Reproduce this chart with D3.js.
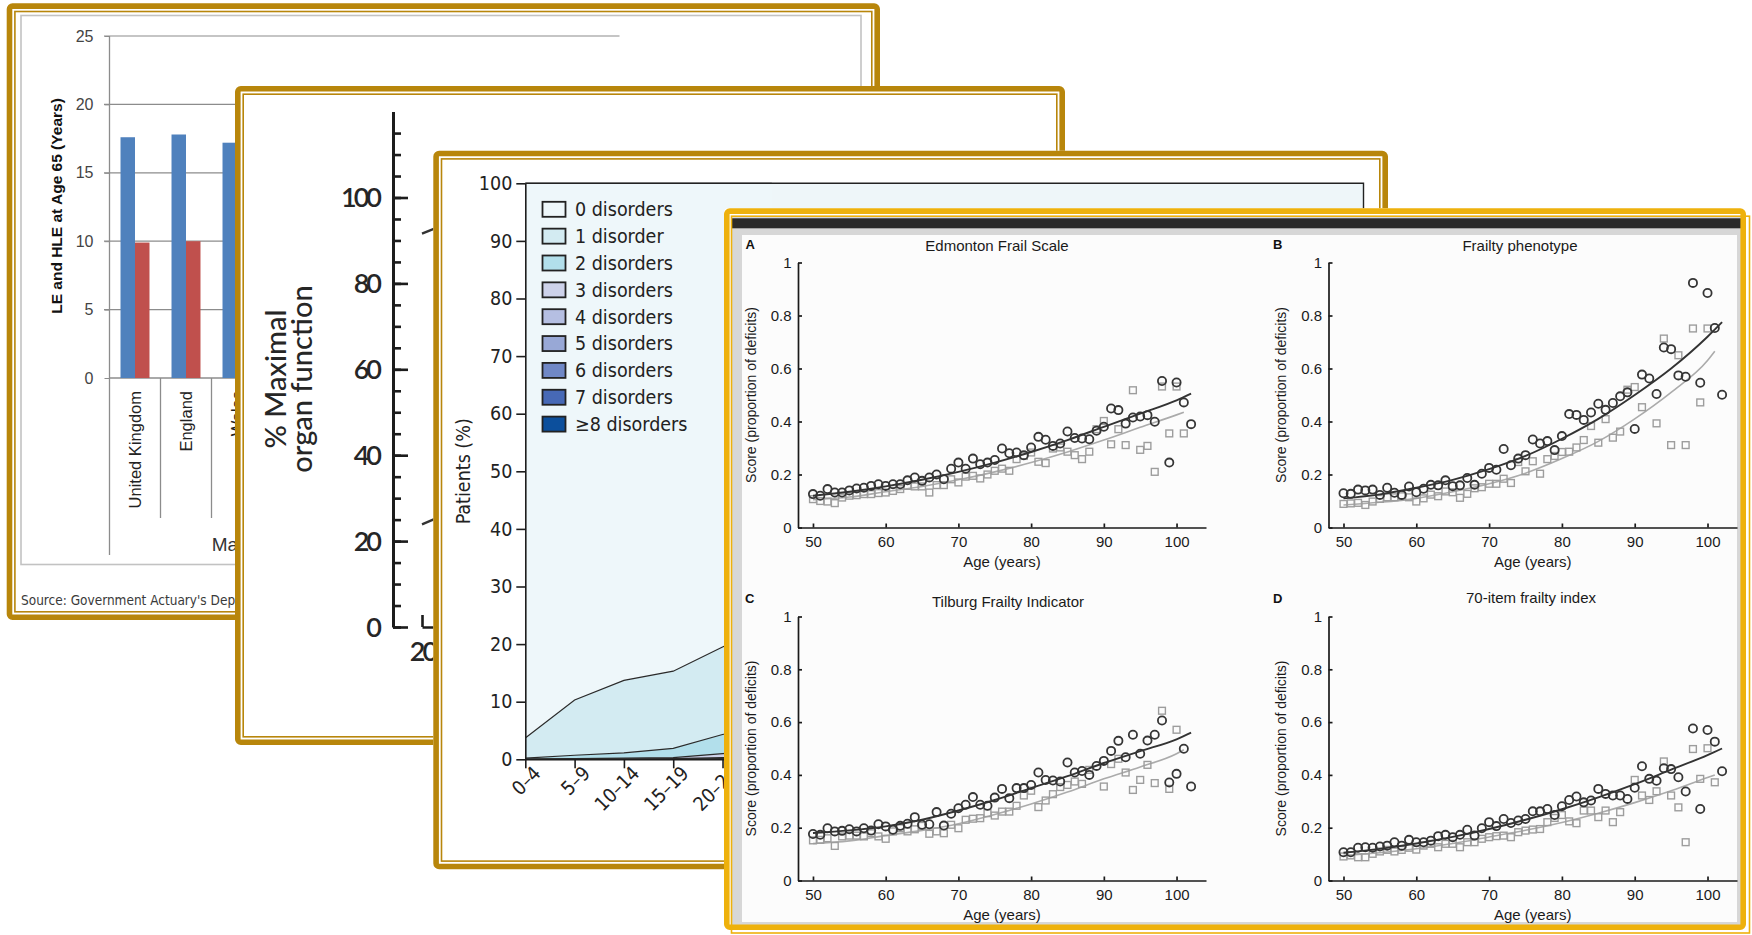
<!DOCTYPE html>
<html>
<head>
<meta charset="utf-8">
<script src="https://cdn.jsdelivr.net/npm/d3@7"></script>
<style>
  body { margin: 0; background: #fff; }
  svg { display: block; }
</style>
</head>
<body>
<div id="root"></div>
<script>
// ---------- slide 1: life expectancy at 65 (only the left part can be read)
const lifeCountries = ['United Kingdom', 'England', 'Wales', 'Scotland', 'Northern Ireland']
const lifeGroups = ['Males', 'Females']
const lifeLE = [17.6, 17.8, 17.2]
const lifeHLE = [9.9, 10.0, 10.6]
const lifeTicks = [0, 5, 10, 15, 20, 25]
const lifeTitle = 'LE and HLE at Age 65 (Years)'
const lifeSource = "Source: Government Actuary's Department"

// ---------- slide 2: organ function
const organTicks = [0, 20, 40, 60, 80, 100]
const organMinorTicks = [0, 5, 10, 15, 20, 25, 30, 35, 40, 45, 50, 55, 60, 65, 70, 75, 80, 85, 90, 95, 100, 105, 110, 115]
const organAgeTicks = [20]
const organLineUpper = [[20, 91.6], [22, 93.4]]
const organLineLower = [[20, 23.9], [22, 25.8]]

// ---------- slide 3: multimorbidity by age group
const mmAgeGroups = ['0–4', '5–9', '10–14', '15–19', '20–24', '25–29', '30–34', '35–39', '40–44',
  '45–49', '50–54', '55–59', '60–64', '65–69', '70–74', '75–79', '80–84', '≥85']
const mmTicks = [0, 10, 20, 30, 40, 50, 60, 70, 80, 90, 100]
const mmKeys = ['0 disorders', '1 disorder', '2 disorders', '3 disorders', '4 disorders',
  '5 disorders', '6 disorders', '7 disorders', '≥8 disorders']
const mmColors = ['#eef7fa', '#d3ebf2', '#b2dfeb', '#cdd2ea', '#b5bfe2', '#98a8d6', '#7088c6', '#4769b6', '#0c4f9c']
// percent of patients, first six age groups (the rest lies under slide 4)
const mm0 = [96.3, 89.7, 86.3, 84.7, 80.5, 76.55]
const mm1 = [3.5, 9.6, 12.6, 13.4, 15.2, 17.5]
const mm2 = [0.2, 0.6, 0.9, 1.6, 3.3, 4.4]
const mm3 = [0, 0.1, 0.2, 0.2, 0.7, 1.1]
const mm4 = [0, 0, 0, 0.1, 0.2, 0.3]
const mm5 = [0, 0, 0, 0, 0.1, 0.1]
const mm6 = [0, 0, 0, 0, 0, 0.05]
const mm7 = [0, 0, 0, 0, 0, 0]
const mm8 = [0, 0, 0, 0, 0, 0]

// ---------- slide 4: frailty scores by age
const frailAges = [50, 51, 52, 53, 54, 55, 56, 57, 58, 59, 60, 61, 62, 63, 64, 65, 66, 67, 68, 69,
  70, 71, 72, 73, 74, 75, 76, 77, 78, 79, 80, 81, 82, 83, 84, 85, 86, 87, 88, 89,
  90, 91, 92, 93, 94, 95, 96, 97, 98, 99, 100, 101, 102]
const fitAgesDark = [50, 55, 60, 65, 70, 75, 80, 85, 90, 95, 100, 102]
const fitAgesLight = [50, 55, 60, 65, 70, 75, 80, 85, 90, 95, 100, 101]
const frailTicksY = [0, 0.2, 0.4, 0.6, 0.8, 1]
const frailTicksX = [50, 60, 70, 80, 90, 100]

const edmontonCircles = [
  0.126, 0.120, 0.145, 0.132, 0.132, 0.140, 0.147, 0.150, 0.157, 0.163,
  0.157, 0.163, 0.163, 0.178, 0.189, 0.176, 0.189, 0.200, 0.182, 0.222,
  0.245, 0.222, 0.260, 0.239, 0.245, 0.255, 0.298, 0.280, 0.283, 0.273,
  0.302, 0.342, 0.331, 0.308, 0.317, 0.362, 0.338, 0.336, 0.333, 0.365,
  0.380, 0.449, 0.443, 0.392, 0.415, 0.419, 0.424, 0.399, 0.553, 0.245,
  0.547, 0.472, 0.390]
const edmontonSquares = [
  0.107, 0.100, 0.098, 0.092, 0.113, 0.120, 0.122, 0.126, 0.126, 0.130,
  0.132, 0.138, 0.145, 0.157, 0.155, 0.155, 0.132, 0.160, 0.160, 0.182,
  0.170, 0.192, 0.195, 0.185, 0.200, 0.214, 0.222, 0.214, 0.258, 0.270,
  0.283, 0.248, 0.243, 0.298, 0.302, 0.286, 0.273, 0.258, 0.286, 0.371,
  0.402, 0.314, 0.371, 0.311, 0.518, 0.293, 0.308, 0.210, 0.532, 0.355,
  0.532, 0.355, null]
const edmontonFitDark = [0.12, 0.135, 0.155, 0.18, 0.21, 0.245, 0.285, 0.33, 0.38, 0.43, 0.48, 0.505]
const edmontonFitLight = [0.105, 0.115, 0.135, 0.155, 0.18, 0.21, 0.245, 0.285, 0.33, 0.378, 0.425, 0.435]

const phenotypeCircles = [
  0.129, 0.127, 0.143, 0.140, 0.143, 0.123, 0.150, 0.131, 0.123, 0.155,
  0.133, 0.146, 0.161, 0.159, 0.178, 0.156, 0.159, 0.187, 0.161, 0.203,
  0.225, 0.218, 0.296, 0.235, 0.260, 0.273, 0.332, 0.317, 0.326, 0.292,
  0.345, 0.428, 0.425, 0.406, 0.434, 0.467, 0.444, 0.470, 0.495, 0.510,
  0.372, 0.577, 0.562, 0.504, 0.679, 0.673, 0.574, 0.569, 0.923, 0.546,
  0.885, 0.753, 0.501]
const phenotypeSquares = [
  0.089, 0.091, 0.093, 0.085, 0.098, 0.108, 0.114, 0.114, 0.118, 0.114,
  0.098, 0.110, 0.124, 0.118, 0.136, 0.133, 0.112, 0.127, 0.148, 0.152,
  0.165, 0.165, 0.184, 0.168, 0.247, 0.212, 0.250, 0.203, 0.258, 0.270,
  0.285, 0.286, 0.302, 0.330, 0.383, 0.320, 0.409, 0.339, 0.362, 0.520,
  0.530, 0.454, null, 0.393, 0.713, 0.311, 0.650, 0.311, 0.751, 0.472,
  0.751, null, null]
const phenotypeFitDark = [0.11, 0.125, 0.15, 0.18, 0.22, 0.27, 0.335, 0.41, 0.5, 0.6, 0.72, 0.775]
const phenotypeFitLight = [0.085, 0.095, 0.11, 0.135, 0.165, 0.205, 0.26, 0.325, 0.41, 0.51, 0.63, 0.665]

const tilburgCircles = [
  0.176, 0.173, 0.198, 0.186, 0.188, 0.194, 0.186, 0.198, 0.189, 0.213,
  0.205, 0.192, 0.207, 0.215, 0.240, 0.211, 0.213, 0.259, 0.208, 0.253,
  0.274, 0.287, 0.316, 0.287, 0.283, 0.314, 0.347, 0.312, 0.350, 0.350,
  0.362, 0.409, 0.381, 0.379, 0.375, 0.447, 0.409, 0.415, 0.400, 0.434,
  0.453, 0.491, 0.529, 0.467, 0.552, 0.480, 0.530, 0.552, 0.606, 0.371,
  0.404, 0.499, 0.356]
const tilburgSquares = [
  0.152, 0.154, 0.160, 0.131, 0.167, 0.170, 0.170, 0.167, 0.179, 0.167,
  0.158, 0.186, 0.198, 0.186, 0.194, 0.207, 0.177, 0.186, 0.179, 0.211,
  0.198, 0.230, 0.234, 0.236, 0.255, 0.246, 0.261, 0.261, 0.283, 0.322,
  0.340, 0.278, 0.303, 0.327, 0.354, 0.362, 0.375, 0.366, 0.419, null,
  0.356, 0.441, 0.461, 0.409, 0.343, 0.381, 0.438, 0.369, 0.643, 0.347,
  0.571, null, null]
const tilburgFitDark = [0.18, 0.19, 0.205, 0.23, 0.265, 0.305, 0.35, 0.395, 0.445, 0.49, 0.535, 0.56]
const tilburgFitLight = [0.14, 0.15, 0.17, 0.19, 0.215, 0.25, 0.29, 0.335, 0.385, 0.43, 0.48, 0.495]

const itemCircles = [
  0.107, 0.107, 0.124, 0.126, 0.124, 0.129, 0.132, 0.145, 0.132, 0.154,
  0.145, 0.145, 0.151, 0.168, 0.173, 0.164, 0.173, 0.192, 0.170, 0.198,
  0.221, 0.206, 0.233, 0.218, 0.227, 0.233, 0.262, 0.262, 0.271, 0.248,
  0.281, 0.305, 0.318, 0.296, 0.303, 0.347, 0.328, 0.322, 0.322, 0.309,
  0.351, 0.433, 0.385, 0.378, 0.425, 0.422, 0.391, 0.337, 0.576, 0.271,
  0.570, 0.526, 0.414]
const itemSquares = [
  0.091, 0.095, 0.088, 0.088, 0.101, 0.110, 0.116, 0.110, 0.116, 0.124,
  0.117, 0.132, 0.139, 0.126, 0.139, 0.139, 0.126, 0.145, 0.145, 0.158,
  0.164, 0.168, 0.170, 0.164, 0.183, 0.189, 0.193, 0.195, 0.221, 0.237,
  0.248, 0.224, 0.217, 0.265, 0.265, 0.240, 0.265, 0.221, 0.259, null,
  0.381, 0.322, 0.305, 0.338, 0.451, 0.322, 0.277, 0.145, 0.498, 0.385,
  0.501, 0.372, null]
const itemFitDark = [0.105, 0.12, 0.14, 0.165, 0.195, 0.23, 0.27, 0.315, 0.365, 0.42, 0.475, 0.5]
const itemFitLight = [0.095, 0.105, 0.12, 0.14, 0.165, 0.19, 0.22, 0.255, 0.295, 0.34, 0.39, 0.4]

const GOLD = '#b8860b'
const GOLD_BRIGHT = '#eeb10c'
const SANS = "'Liberation Sans', Arial, sans-serif"
const NARROW = "'Liberation Sans Narrow', 'DejaVu Sans Condensed', sans-serif"
const ROUND = "Lato, 'DejaVu Sans', sans-serif"

const svg = d3.select('#root').append('svg')
  .attr('width', 1752)
  .attr('height', 935)

// a slide: white card, content group, gold double border on top
function slide (box, color, thin) {
  const g = svg.append('g')
  g.append('rect')
    .attr('x', box.x0).attr('y', box.y0)
    .attr('width', box.x1 - box.x0).attr('height', box.y1 - box.y0)
    .attr('rx', 4)
    .attr('fill', '#fff')
  const content = g.append('g')
  const edge = g.append('g')
  edge.append('rect')
    .attr('x', box.x0 + 2.8).attr('y', box.y0 + 2.8)
    .attr('width', box.x1 - box.x0 - 5.6).attr('height', box.y1 - box.y0 - 5.6)
    .attr('rx', 3)
    .attr('fill', 'none')
    .attr('stroke', color)
    .attr('stroke-width', 5.6)
  const t = thin || { x0: box.x0 + 8.2, y0: box.y0 + 8.2, x1: box.x1 - 8.2, y1: box.y1 - 8.2 }
  edge.append('rect')
    .attr('x', t.x0).attr('y', t.y0)
    .attr('width', t.x1 - t.x0).attr('height', t.y1 - t.y0)
    .attr('fill', 'none')
    .attr('stroke', color)
    .attr('stroke-width', 1.6)
  return content
}

//
// Slide 1
//
const s1 = slide({ x0: 6.7, y0: 3.3, x1: 880, y1: 620 }, GOLD)
s1.append('rect')
  .attr('x', 21).attr('y', 15.5).attr('width', 840).attr('height', 549)
  .attr('fill', 'none').attr('stroke', '#c2c2c2').attr('stroke-width', 1.6)

const lifeKeys = lifeGroups.flatMap(grp => lifeCountries.map(c => grp + '|' + c))
const lifeX = d3.scaleBand().domain(lifeKeys).range([109.5, 619.5])
const lifeInner = d3.scaleBand().domain(['LE', 'HLE']).range([0, lifeX.bandwidth()]).paddingOuter(0.76)
const lifeY = d3.scaleLinear().domain([0, 25]).range([378, 36])

s1.append('g').selectAll('line')
  .data(lifeTicks.filter(d => d > 0))
  .join('line')
  .attr('x1', 104).attr('x2', 619.5)
  .attr('y1', d => lifeY(d)).attr('y2', d => lifeY(d))
  .attr('stroke', '#8c8c8c').attr('stroke-width', 1.2)

const lifeAxis = s1.append('g')
  .attr('transform', 'translate(109.5,0)')
  .call(d3.axisLeft(lifeY).tickValues(lifeTicks).tickSize(5).tickPadding(11))
lifeAxis.select('.domain').remove()
lifeAxis.selectAll('line').attr('stroke', '#8c8c8c')
lifeAxis.selectAll('text')
  .attr('font-family', SANS).attr('font-size', 16).attr('fill', '#444')

// axis lines and category separators
s1.append('line').attr('x1', 109.5).attr('x2', 109.5).attr('y1', 36).attr('y2', 555)
  .attr('stroke', '#8c8c8c').attr('stroke-width', 1.3)
s1.append('line').attr('x1', 109.5).attr('x2', 619.5).attr('y1', lifeY(0)).attr('y2', lifeY(0))
  .attr('stroke', '#8c8c8c').attr('stroke-width', 1.3)
s1.append('g').selectAll('line')
  .data(lifeKeys.slice(1).concat(['end']))
  .join('line')
  .attr('x1', (d, i) => lifeX.range()[0] + (i + 1) * lifeX.step())
  .attr('x2', (d, i) => lifeX.range()[0] + (i + 1) * lifeX.step())
  .attr('y1', lifeY(0))
  .attr('y2', (d, i) => (i + 1) % lifeCountries.length === 0 ? 555 : 518)
  .attr('stroke', '#8c8c8c').attr('stroke-width', 1.3)

const lifeBars = lifeLE.map((v, i) => ({ key: lifeKeys[i], le: v, hle: lifeHLE[i] }))
s1.append('g').selectAll('rect')
  .data(lifeBars)
  .join('rect')
  .attr('x', d => lifeX(d.key) + lifeInner('LE'))
  .attr('y', d => lifeY(d.le))
  .attr('width', lifeInner.bandwidth())
  .attr('height', d => lifeY(0) - lifeY(d.le))
  .attr('fill', '#4f81bd')
s1.append('g').selectAll('rect')
  .data(lifeBars)
  .join('rect')
  .attr('x', d => lifeX(d.key) + lifeInner('HLE'))
  .attr('y', d => lifeY(d.hle))
  .attr('width', lifeInner.bandwidth())
  .attr('height', d => lifeY(0) - lifeY(d.hle))
  .attr('fill', '#c0504d')

// category labels (only the readable ones; the rest sit under slide 2)
s1.append('g').selectAll('text')
  .data(lifeBars)
  .join('text')
  .attr('transform', d => `translate(${lifeX(d.key) + lifeX.bandwidth() / 2},391) rotate(-90)`)
  .attr('dy', '0.35em')
  .attr('text-anchor', 'end')
  .attr('font-family', SANS).attr('font-size', 16.5).attr('fill', '#222')
  .text(d => d.key.split('|')[1])
s1.append('g').selectAll('text')
  .data(lifeGroups.slice(0, 1))
  .join('text')
  .attr('x', (d, i) => lifeX.range()[0] + (i + 0.5) * lifeCountries.length * lifeX.step())
  .attr('y', 551)
  .attr('text-anchor', 'middle')
  .attr('font-family', SANS).attr('font-size', 19).attr('fill', '#333')
  .text(d => d)
s1.append('text')
  .attr('transform', 'translate(57,206) rotate(-90)')
  .attr('dy', '0.35em')
  .attr('text-anchor', 'middle')
  .attr('font-family', SANS).attr('font-size', 15.5).attr('font-weight', 'bold').attr('fill', '#111')
  .text(lifeTitle)
s1.append('text')
  .attr('x', 21).attr('y', 605)
  .attr('font-family', NARROW).attr('font-size', 13.5).attr('fill', '#3a3a3a')
  .text(lifeSource)

//
// Slide 2
//
const s2 = slide({ x0: 235, y0: 86, x1: 1065, y1: 745 }, GOLD)
const organY = d3.scaleLinear().domain([0, 120]).range([627, 111.6])
const organX = d3.scaleLinear().domain([20, 80]).range([422, 1000])

const organMinor = s2.append('g')
  .attr('transform', 'translate(393,0)')
  .call(d3.axisRight(organY).tickValues(organMinorTicks).tickSizeInner(8).tickSizeOuter(0).tickFormat(''))
const organMajor = s2.append('g')
  .attr('transform', 'translate(393,0)')
  .call(d3.axisRight(organY).tickValues(organTicks).tickSizeInner(15).tickSizeOuter(0).tickFormat(''))
organMajor.select('.domain').remove()
s2.selectAll('.tick line, .domain').attr('stroke', '#1c1c1c').attr('stroke-width', 2.6)
organMinor.select('.domain').attr('stroke-width', 3)

s2.append('g').selectAll('text')
  .data(organTicks)
  .join('text')
  .attr('x', 379)
  .attr('y', d => organY(d))
  .attr('dy', '0.36em')
  .attr('text-anchor', 'end')
  .attr('font-family', ROUND).attr('font-size', 27).attr('font-weight', 600).attr('letter-spacing', -3)
  .attr('fill', '#262626')
  .text(d => d)

const organBottom = s2.append('g')
  .attr('transform', `translate(0,${organY(0)})`)
  .call(d3.axisBottom(organX).tickValues(organAgeTicks).tickSizeInner(-12).tickSizeOuter(0).tickPadding(15))
organBottom.selectAll('line, .domain').attr('stroke', '#1c1c1c').attr('stroke-width', 2.6)
organBottom.selectAll('text')
  .attr('font-family', ROUND).attr('font-size', 27).attr('font-weight', 600).attr('letter-spacing', -3)
  .attr('fill', '#262626')

const organLine = d3.line().x(d => organX(d[0])).y(d => organY(d[1]))
s2.append('g').selectAll('path')
  .data([organLineUpper, organLineLower])
  .join('path')
  .attr('d', organLine)
  .attr('fill', 'none').attr('stroke', '#333').attr('stroke-width', 2.4)

s2.append('g').selectAll('text')
  .data(['% Maximal', 'organ function'])
  .join('text')
  .attr('transform', (d, i) => `translate(${i === 0 ? 286 : 312},379) rotate(-90)`)
  .attr('text-anchor', 'middle')
  .attr('font-family', ROUND).attr('font-size', 29).attr('font-weight', 500)
  .attr('fill', '#262626')
  .text(d => d)

//
// Slide 3
//
const s3 = slide({ x0: 433.3, y0: 150.7, x1: 1388, y1: 869.3 }, GOLD)
const mmX = d3.scalePoint().domain(mmAgeGroups).range([525.3, 1363.5])
const mmY = d3.scaleLinear().domain([0, 100]).range([759.3, 183.3])

s3.append('rect')
  .attr('x', mmX.range()[0]).attr('y', mmY(100))
  .attr('width', mmX.range()[1] - mmX.range()[0]).attr('height', mmY(0) - mmY(100))
  .attr('fill', '#eef6f9')

const mmSeries = [mm0, mm1, mm2, mm3, mm4, mm5, mm6, mm7, mm8]
const mmRows = mm0.map((v, i) => {
  const row = { group: mmAgeGroups[i] }
  mmKeys.forEach((k, j) => { row[k] = mmSeries[j][i] })
  return row
})
const mmStack = d3.stack().keys(mmKeys.slice().reverse())(mmRows)
const mmColor = d3.scaleOrdinal().domain(mmKeys).range(mmColors)
const mmArea = d3.area()
  .x(d => mmX(d.data.group))
  .y0(d => mmY(d[0]))
  .y1(d => mmY(d[1]))
const mmTop = d3.line()
  .x(d => mmX(d.data.group))
  .y(d => mmY(d[1]))

s3.append('g').selectAll('path')
  .data(mmStack)
  .join('path')
  .attr('d', mmArea)
  .attr('fill', d => mmColor(d.key))
s3.append('g').selectAll('path')
  .data(mmStack)
  .join('path')
  .attr('d', mmTop)
  .attr('fill', 'none').attr('stroke', '#2a2a2a').attr('stroke-width', 1.2)

// frame of the plot (top and right)
s3.append('path')
  .attr('d', `M${mmX.range()[0]},${mmY(100)}H${mmX.range()[1]}V${mmY(0)}`)
  .attr('fill', 'none').attr('stroke', '#222').attr('stroke-width', 1.4)

const mmLeft = s3.append('g')
  .attr('transform', `translate(${mmX.range()[0]},0)`)
  .call(d3.axisLeft(mmY).tickValues(mmTicks).tickSizeInner(9).tickSizeOuter(0).tickPadding(4))
const mmBottom = s3.append('g')
  .attr('transform', `translate(0,${mmY(0)})`)
  .call(d3.axisBottom(mmX).tickSizeInner(9).tickSizeOuter(0))
s3.selectAll('.domain, .tick line').attr('stroke', '#1e1e1e').attr('stroke-width', 1.6)
mmLeft.selectAll('text')
  .attr('font-family', NARROW).attr('font-size', 19.5).attr('fill', '#222')
mmBottom.selectAll('text')
  .attr('font-family', NARROW).attr('font-size', 19.5).attr('fill', '#222')
  .attr('text-anchor', 'end')
  .attr('transform', 'translate(5,4) rotate(-45)')
  .attr('dy', '0.35em')
  .attr('y', 9)
  .attr('x', 0)
s3.append('text')
  .attr('transform', `translate(463,${(mmY(0) + mmY(100)) / 2}) rotate(-90)`)
  .attr('dy', '0.35em')
  .attr('text-anchor', 'middle')
  .attr('font-family', NARROW).attr('font-size', 19.5).attr('fill', '#222')
  .text('Patients (%)')

const mmLegendY = d3.scalePoint().domain(mmKeys).range([209.3, 424.1])
const mmLegend = s3.append('g').selectAll('g')
  .data(mmKeys)
  .join('g')
  .attr('transform', d => `translate(0,${mmLegendY(d)})`)
mmLegend.append('rect')
  .attr('x', 542.5).attr('y', -7.5).attr('width', 23).attr('height', 15)
  .attr('fill', d => mmColor(d))
  .attr('stroke', '#222').attr('stroke-width', 1.8)
mmLegend.append('text')
  .attr('x', 575).attr('dy', '0.35em')
  .attr('font-family', NARROW).attr('font-size', 19.5).attr('fill', '#222')
  .text(d => d)

//
// Slide 4
//
const s4 = slide({ x0: 724, y0: 208.3, x1: 1746, y1: 930 }, GOLD_BRIGHT,
  { x0: 731.5, y0: 216.2, x1: 1749.5, y1: 933 })
s4.append('rect').attr('x', 731).attr('y', 216).attr('width', 1010).attr('height', 709).attr('fill', '#d7d7d7')
s4.append('rect').attr('x', 731).attr('y', 218.3).attr('width', 1010).attr('height', 10).attr('fill', '#2a2a2a')
s4.append('rect').attr('x', 742).attr('y', 235).attr('width', 995).attr('height', 687).attr('fill', '#fcfcfc')

const frailCols = [{ axis: 798, end: 1206 }, { axis: 1328.5, end: 1737 }]
const frailRows = [{ top: 262.5, bottom: 527.5 }, { top: 616.5, bottom: 880.5 }]
const panels = [
  { letter: 'A', title: 'Edmonton Frail Scale', col: 0, row: 0, circles: edmontonCircles, squares: edmontonSquares,
    fitDark: edmontonFitDark, fitLight: edmontonFitLight, titleAt: [997, 250.5], letterAt: [745.5, 249] },
  { letter: 'B', title: 'Frailty phenotype', col: 1, row: 0, circles: phenotypeCircles, squares: phenotypeSquares,
    fitDark: phenotypeFitDark, fitLight: phenotypeFitLight, titleAt: [1520, 250.5], letterAt: [1273, 249] },
  { letter: 'C', title: 'Tilburg Frailty Indicator', col: 0, row: 1, circles: tilburgCircles, squares: tilburgSquares,
    fitDark: tilburgFitDark, fitLight: tilburgFitLight, titleAt: [1008, 607], letterAt: [745, 603] },
  { letter: 'D', title: '70-item frailty index', col: 1, row: 1, circles: itemCircles, squares: itemSquares,
    fitDark: itemFitDark, fitLight: itemFitLight, titleAt: [1531, 603], letterAt: [1273, 603] }
]

function frailPanel (p) {
  const c = frailCols[p.col]
  const r = frailRows[p.row]
  const x = d3.scaleLinear().domain([47.94, 104.05]).range([c.axis, c.end])
  const y = d3.scaleLinear().domain([0, 1]).range([r.bottom, r.top])
  const g = s4.append('g')

  const line = d3.line().curve(d3.curveMonotoneX).x(d => x(d[0])).y(d => y(d[1]))
  const squares = frailAges.map((a, i) => [a, p.squares[i]]).filter(d => d[1] != null)
  const circles = frailAges.map((a, i) => [a, p.circles[i]]).filter(d => d[1] != null)

  g.append('path')
    .attr('d', line(fitAgesLight.map((a, i) => [a, p.fitLight[i]])))
    .attr('fill', 'none').attr('stroke', '#ababab').attr('stroke-width', 1.6)
  g.append('g').selectAll('rect')
    .data(squares)
    .join('rect')
    .attr('x', d => x(d[0]) - 3.4).attr('y', d => y(d[1]) - 3.4)
    .attr('width', 6.8).attr('height', 6.8)
    .attr('fill', 'none').attr('stroke', '#9d9d9d').attr('stroke-width', 1.4)
  g.append('g').selectAll('circle')
    .data(circles)
    .join('circle')
    .attr('cx', d => x(d[0])).attr('cy', d => y(d[1]))
    .attr('r', 4.1)
    .attr('fill', 'none').attr('stroke', '#353535').attr('stroke-width', 1.8)
  g.append('path')
    .attr('d', line(fitAgesDark.map((a, i) => [a, p.fitDark[i]])))
    .attr('fill', 'none').attr('stroke', '#333').attr('stroke-width', 1.9)

  g.append('g')
    .attr('transform', `translate(${c.axis},0)`)
    .call(d3.axisLeft(y).tickValues(frailTicksY).tickSizeInner(-4).tickSizeOuter(0).tickPadding(6.5)
      .tickFormat(d => (d === 0 || d === 1) ? String(d) : d.toFixed(1)))
  g.append('g')
    .attr('transform', `translate(0,${r.bottom})`)
    .call(d3.axisBottom(x).tickValues(frailTicksX).tickSizeInner(-4).tickSizeOuter(0).tickPadding(8.5))
  g.selectAll('.domain, .tick line').attr('stroke', '#1a1a1a').attr('stroke-width', 1.7)
  g.selectAll('.tick text')
    .attr('font-family', SANS).attr('font-size', 15).attr('fill', '#1a1a1a')

  g.append('text')
    .attr('x', (c.axis + c.end) / 2).attr('y', r.bottom + 39)
    .attr('text-anchor', 'middle')
    .attr('font-family', SANS).attr('font-size', 15).attr('fill', '#1a1a1a')
    .text('Age (years)')
  g.append('text')
    .attr('transform', `translate(${c.axis - 47},${(r.top + r.bottom) / 2}) rotate(-90)`)
    .attr('dy', '0.35em')
    .attr('text-anchor', 'middle')
    .attr('font-family', SANS).attr('font-size', 14).attr('fill', '#1a1a1a')
    .text('Score (proportion of deficits)')
  g.append('text')
    .attr('x', p.titleAt[0]).attr('y', p.titleAt[1])
    .attr('text-anchor', 'middle')
    .attr('font-family', SANS).attr('font-size', 15).attr('fill', '#1a1a1a')
    .text(p.title)
  g.append('text')
    .attr('x', p.letterAt[0]).attr('y', p.letterAt[1])
    .attr('font-family', SANS).attr('font-size', 13).attr('font-weight', 'bold').attr('fill', '#111')
    .text(p.letter)
}
panels.forEach(frailPanel)
</script>
</body>
</html>
